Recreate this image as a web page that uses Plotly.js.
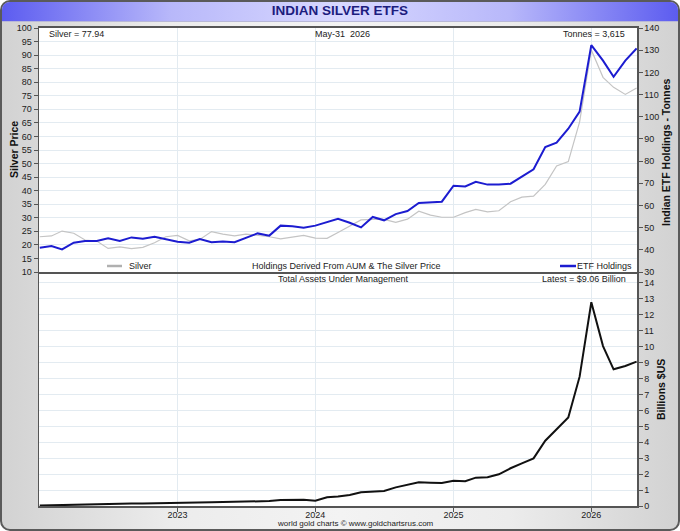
<!DOCTYPE html>
<html>
<head>
<meta charset="utf-8">
<script src="https://cdn.plot.ly/plotly-3.0.1.min.js"></script>
<style>
  body { margin: 0; background: #ffffff; }
  #frame {
    position: absolute; left: 0; top: 0; width: 676px; height: 527px;
    border: 2px solid #5a5a5a; border-radius: 10px; overflow: hidden;
    background: linear-gradient(to right, #d2d2d2 0%, #ececec 25%, #f3f3f3 50%, #ececec 75%, #d2d2d2 100%);
  }
  #bar {
    position: absolute; left: 0; top: 0; width: 676px; height: 19px;
    border-bottom: 1px solid #b8b8d8;
    background: linear-gradient(to right, #5c5cf0 0%, #b8b8fa 25%, #d8d8ff 50%, #b8b8fa 75%, #5c5cf0 100%);
  }
  #chart { position: absolute; left: 0; top: 0; width: 680px; height: 531px; }
</style>
</head>
<body>
<div id="frame"><div id="bar"></div></div>
<div id="chart"></div>
<script>
// monthly points, Jan 2022 .. May 2026
var months = [
  '2022-01-01','2022-02-01','2022-03-01','2022-04-01','2022-05-01','2022-06-01',
  '2022-07-01','2022-08-01','2022-09-01','2022-10-01','2022-11-01','2022-12-01',
  '2023-01-01','2023-02-01','2023-03-01','2023-04-01','2023-05-01','2023-06-01',
  '2023-07-01','2023-08-01','2023-09-01','2023-10-01','2023-11-01','2023-12-01',
  '2024-01-01','2024-02-01','2024-03-01','2024-04-01','2024-05-01','2024-06-01',
  '2024-07-01','2024-08-01','2024-09-01','2024-10-01','2024-11-01','2024-12-01',
  '2025-01-01','2025-02-01','2025-03-01','2025-04-01','2025-05-01','2025-06-01',
  '2025-07-01','2025-08-01','2025-09-01','2025-10-01','2025-11-01','2025-12-01',
  '2026-01-01','2026-02-01','2026-03-01','2026-04-01','2026-05-01'
];

// silver price, $/oz (left axis)
var silver = [
  23.0, 23.3, 25.1, 24.3, 21.8, 21.4, 18.7, 19.3, 18.6, 19.1, 20.8, 23.0,
  23.5, 21.5, 22.0, 24.9, 24.0, 23.3, 24.0, 23.5, 23.0, 22.2, 23.0, 23.5,
  22.5, 22.4, 24.6, 27.0, 29.2, 29.4, 29.4, 28.3, 29.5, 32.4, 31.0, 30.2,
  30.2, 31.9, 33.1, 32.2, 32.6, 35.9, 37.6, 38.0, 42.3, 49.1, 50.7, 65.4,
  91.9, 81.8, 78.1, 75.5, 77.9
];

// indian ETF holdings, tonnes (right axis)
var holdings = [
  40.9, 41.7, 40.2, 43.2, 44.0, 44.0, 45.2, 44.0, 45.6, 45.0, 45.9, 44.7,
  43.6, 43.2, 44.9, 43.4, 43.8, 43.4, 45.5, 47.4, 46.4, 50.9, 50.6, 50.0,
  50.9, 52.4, 54.0, 52.2, 50.1, 54.8, 53.3, 56.1, 57.5, 61.1, 61.4, 61.7,
  68.9, 68.6, 70.7, 69.4, 69.4, 69.8, 73.0, 76.3, 86.3, 88.3, 94.6, 102.3,
  132.3, 125.3, 118.0, 125.3, 130.8
];

// total assets under management, billions $US
var aum = [
  0.03, 0.05, 0.07, 0.09, 0.11, 0.12, 0.13, 0.14, 0.15, 0.16, 0.18, 0.19,
  0.20, 0.21, 0.22, 0.24, 0.25, 0.26, 0.28, 0.30, 0.31, 0.38, 0.37, 0.40,
  0.33, 0.55, 0.60, 0.69, 0.86, 0.92, 0.94, 1.17, 1.32, 1.49, 1.46, 1.44,
  1.59, 1.55, 1.78, 1.80, 1.99, 2.37, 2.68, 2.99, 4.10, 4.81, 5.56, 8.12,
  12.79, 10.04, 8.58, 8.79, 9.06
];

var yearTicks = ['2023-01-01', '2024-01-01', '2025-01-01', '2026-01-01'];
var yearLabels = ['2023', '2024', '2025', '2026'];

var gridCol = '#e3ebf1';
var axCol = '#555555';
var fam = 'Liberation Sans, Arial, sans-serif';
var tickFont = {family: fam, size: 9, color: '#222222'};
var txtFont = {family: fam, size: 9, color: '#222222'};
var axTitleFont = {family: fam, size: 10.5, color: '#111111'};

var silverTrace = {
  x: months, y: silver, xaxis: 'x2', yaxis: 'y',
  type: 'scatter', mode: 'lines', name: 'Silver',
  line: {color: '#c4c4c4', width: 1.2}
};
var etfTrace = {
  x: months, y: holdings, xaxis: 'x2', yaxis: 'y2',
  type: 'scatter', mode: 'lines', name: 'ETF Holdings',
  line: {color: '#1c1cd0', width: 2}
};
var aumTrace = {
  x: months, y: aum, xaxis: 'x', yaxis: 'y3',
  type: 'scatter', mode: 'lines', name: 'AUM',
  line: {color: '#111111', width: 2}
};

var xRange = ['2021-12-30', '2026-05-02'];
var xDom = [39 / 680, 637 / 680];
var topDom = [1 - 272 / 531, 1 - 28 / 531];
var botDom = [1 - 506 / 531, 1 - 272 / 531];

function note(text, px, py, anchor, font) {
  return {text: text, xref: 'paper', yref: 'paper', x: px / 680, y: 1 - py / 531,
          xanchor: anchor, yanchor: 'middle', showarrow: false, font: font || txtFont};
}
function sideTitle(text, px, py) {
  var a = note('<b>' + text + '</b>', px, py, 'center', axTitleFont);
  a.textangle = -90;
  return a;
}

var layout = {
  width: 680, height: 531,
  margin: {l: 0, r: 0, t: 0, b: 0},
  paper_bgcolor: 'rgba(0,0,0,0)',
  plot_bgcolor: '#ffffff',
  showlegend: false,
  font: txtFont,
  title: {
    text: '<b>INDIAN SILVER ETFS</b>',
    font: {family: fam, size: 13.5, color: '#1c1c7e'},
    x: 0.5, xanchor: 'center', y: 1 - 10 / 531, yanchor: 'middle', yref: 'paper'
  },
  xaxis: {
    domain: xDom, anchor: 'y3', type: 'date', range: xRange,
    tickmode: 'array', tickvals: yearTicks, ticktext: yearLabels,
    ticks: 'outside', ticklen: 4, tickcolor: axCol, tickfont: tickFont,
    ticklabelstandoff: -4,
    showgrid: true, gridcolor: gridCol,
    showline: true, linecolor: axCol, linewidth: 1.5, zeroline: false
  },
  xaxis2: {
    domain: xDom, anchor: 'y', type: 'date', range: xRange, matches: 'x',
    tickmode: 'array', tickvals: yearTicks, ticktext: yearLabels,
    showticklabels: false, ticks: '',
    showgrid: true, gridcolor: gridCol,
    showline: true, mirror: true, linecolor: axCol, linewidth: 2, zeroline: false
  },
  yaxis: {
    domain: topDom, anchor: 'x2', range: [10, 100], dtick: 5,
    ticks: 'outside', ticklen: 4, tickcolor: axCol, tickfont: tickFont,
    showgrid: true, gridcolor: gridCol,
    showline: true, linecolor: axCol, linewidth: 1.5, zeroline: false
  },
  yaxis2: {
    domain: topDom, anchor: 'x2', overlaying: 'y', side: 'right',
    range: [30, 140], dtick: 10,
    ticks: 'outside', ticklen: 4, tickcolor: axCol, tickfont: tickFont,
    showgrid: false,
    showline: true, linecolor: axCol, linewidth: 1.5, zeroline: false
  },
  yaxis3: {
    domain: botDom, anchor: 'x', side: 'right', range: [0, 14.69], dtick: 1,
    ticks: 'outside', ticklen: 4, tickcolor: axCol, tickfont: tickFont,
    showgrid: true, gridcolor: gridCol,
    showline: true, mirror: true, linecolor: axCol, linewidth: 1.5, zeroline: false
  },
  annotations: [
    note('Silver = 77.94', 47, 34, 'left'),
    note('May-31  2026', 342, 34, 'center'),
    note('Tonnes = 3,615', 627, 34, 'right'),
    note('Silver', 127, 266, 'left'),
    note('Holdings Derived From AUM & The Silver Price', 346, 266, 'center'),
    note('ETF Holdings', 634, 266, 'right'),
    note('Total Assets Under Management', 343, 279, 'center'),
    note('Latest = $9.06 Billion', 628, 279, 'right'),
    note('world gold charts © www.goldchartsrus.com', 355, 523, 'center',
         {family: fam, size: 8, color: '#222222'}),
    sideTitle('Silver Price', 14, 150),
    sideTitle('Indian ETF Holdings - Tonnes', 666, 152),
    sideTitle('Billions $US', 661, 390)
  ],
  shapes: [
    // legend swatches
    {type: 'line', xref: 'paper', yref: 'paper', x0: 107 / 680, x1: 122 / 680,
     y0: 1 - 266 / 531, y1: 1 - 266 / 531, line: {color: '#b0b0b0', width: 2.5}},
    {type: 'line', xref: 'paper', yref: 'paper', x0: 560 / 680, x1: 576 / 680,
     y0: 1 - 266 / 531, y1: 1 - 266 / 531, line: {color: '#1c1cd0', width: 2.5}}
  ]
};

Plotly.newPlot('chart', [silverTrace, etfTrace, aumTrace], layout, {displayModeBar: false, staticPlot: true});
</script>
</body>
</html>
